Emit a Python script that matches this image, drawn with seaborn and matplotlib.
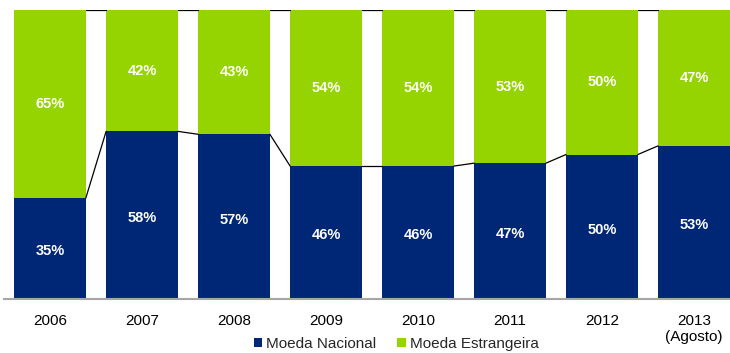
import matplotlib
matplotlib.use("Agg")
import matplotlib.pyplot as plt
from matplotlib.patches import Patch
import seaborn as sns
import pandas as pd

years = ["2006", "2007", "2008", "2009", "2010", "2011", "2012", "2013\n(Agosto)"]
moeda_nacional = [35, 58, 57, 46, 46, 47, 50, 53]
moeda_estrangeira = [65, 42, 43, 54, 54, 53, 50, 47]
series_names = ["Moeda Nacional", "Moeda Estrangeira"]

navy = "#002776"
green = "#95D400"

sns.set_theme(style="white")
plt.rcParams["font.family"] = ["Liberation Sans", "DejaVu Sans"]

df = pd.DataFrame({
    "ano": years,
    "nacional": moeda_nacional,
    "estrangeira": moeda_estrangeira,
})
df["total"] = df["nacional"] + df["estrangeira"]

fig = plt.figure(figsize=(7.30, 3.53), dpi=100)
ax = fig.add_axes([4 / 730, 54 / 353, 736 / 730, 289 / 353])

bar_w = 0.78
sns.barplot(data=df, x="ano", y="total", color=green, saturation=1,
            width=bar_w, linewidth=0, ax=ax, order=years)
sns.barplot(data=df, x="ano", y="nacional", color=navy, saturation=1,
            width=bar_w, linewidth=0, ax=ax, order=years)

# series lines joining the segment boundaries of neighbouring bars
half = bar_w / 2
for i in range(len(years) - 1):
    ax.plot([i + half, i + 1 - half], [df["nacional"][i], df["nacional"][i + 1]],
            color="black", lw=0.9, zorder=1)
    ax.plot([i + half, i + 1 - half], [df["total"][i], df["total"][i + 1]],
            color="black", lw=0.9, zorder=1)

# value labels centred in each segment
for i in range(len(years)):
    n = df["nacional"][i]
    e = df["estrangeira"][i]
    ax.text(i, n / 2 - 1, f"{n}%", ha="center", va="center", color="white",
            fontsize=10.5, fontweight="bold")
    ax.text(i, n + e / 2, f"{e}%", ha="center", va="center", color="white",
            fontsize=10.5, fontweight="bold")

ax.set_xlim(-0.5, len(years) - 0.5)
ax.set_ylim(0, 100)
ax.set_xlabel("")
ax.set_ylabel("")
ax.set_yticks([])
ax.tick_params(axis="x", length=0, pad=10.5, labelsize=11, labelcolor="black")
for side in ["left", "right", "top"]:
    ax.spines[side].set_visible(False)
ax.spines["bottom"].set_color("#A6A6A6")
ax.spines["bottom"].set_linewidth(1.5)

handles = [Patch(facecolor=navy, edgecolor="none"),
           Patch(facecolor=green, edgecolor="none")]
fig.legend(handles, series_names, loc="lower center",
           bbox_to_anchor=(396 / 730, -0.012), ncol=2, frameon=False,
           fontsize=11, handlelength=0.55, handleheight=0.55,
           handletextpad=0.25, columnspacing=1.4, borderaxespad=0)

fig.savefig("out.png", dpi=100)
